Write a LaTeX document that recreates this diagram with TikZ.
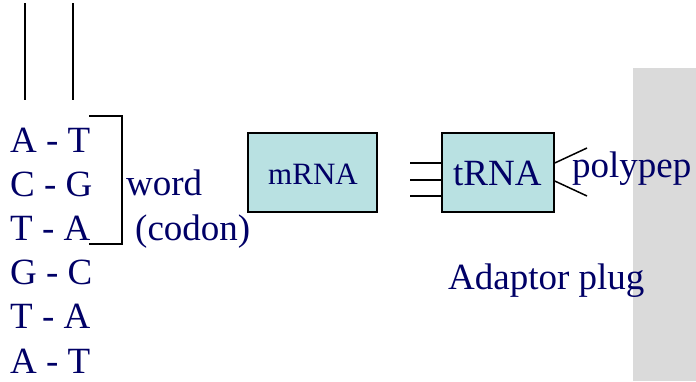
\documentclass[tikz,border=0pt]{standalone}
\usepackage{fontspec}
\setmainfont{Liberation Serif}
\definecolor{ink}{RGB}{0,0,102}
\definecolor{boxfill}{RGB}{185,225,226}
\definecolor{panel}{RGB}{218,218,218}
\begin{document}
\begin{tikzpicture}[x=1pt,y=-1pt,
  lbl/.style={text=ink,inner sep=0pt,anchor=base west,font=\fontsize{37}{37}\selectfont},
  molbox/.style={draw=black,line width=1.5pt,fill=boxfill,inner sep=0pt},
  stroke/.style={line width=1.5pt}]
\useasboundingbox (0,0) rectangle (696,381);
% grey side panel
\fill[panel] (633,68) rectangle (696,381);
% DNA strands
\coordinate (s1t) at (25,3);  \coordinate (s1b) at (25,100);
\coordinate (s2t) at (73,3);  \coordinate (s2b) at (73,100);
\draw[stroke] (s1t) -- (s1b);
\draw[stroke] (s2t) -- (s2b);
% base pairs
\node[lbl] (p1) at (10,152) {A - T};
\node[lbl] (p2) at (10,196.2) {C - G};
\node[lbl] (p3) at (10,240.4) {T - A};
\node[lbl] (p4) at (10,284.6) {G - C};
\node[lbl] (p5) at (10,328.8) {T - A};
\node[lbl] (p6) at (10,373) {A - T};
% codon bracket
\coordinate (bt) at (89,116); \coordinate (bb) at (89,244);
\draw[stroke] (bt) -- ++(33,0) |- (bb);
\node[lbl] (word) at (126,195) {word};
\node[lbl] (codon) at (135,240) {(codon)};
% boxes
\node[molbox,minimum width=129pt,minimum height=79pt] (mrna) at (312.5,172.5) {};
\node[text=ink,inner sep=0pt,anchor=base,font=\fontsize{31}{31}\selectfont] (mrnat) at (313,184) {mRNA};
\node[molbox,minimum width=112pt,minimum height=79pt] (trna) at (498,172.5) {};
\node[lbl] (trnat) at (453,185) {tRNA};
% anticodon prongs
\coordinate (a1) at (410,163); \coordinate (a2) at (410,180); \coordinate (a3) at (410,196);
\draw[stroke] (a1) -- (a1 -| trna.west);
\draw[stroke] (a2) -- (a2 -| trna.west);
\draw[stroke] (a3) -- (a3 -| trna.west);
% amino acid arm
\coordinate (r1) at (587,148); \coordinate (r2) at (587,196);
\draw[stroke] (trna.east |- 0,163) -- (r1);
\draw[stroke] (trna.east |- 0,181) -- (r2);
\node[lbl] (poly) at (572,177) {polypep};
\node[lbl] (plug) at (448,289) {Adaptor plug};
\end{tikzpicture}
\end{document}
